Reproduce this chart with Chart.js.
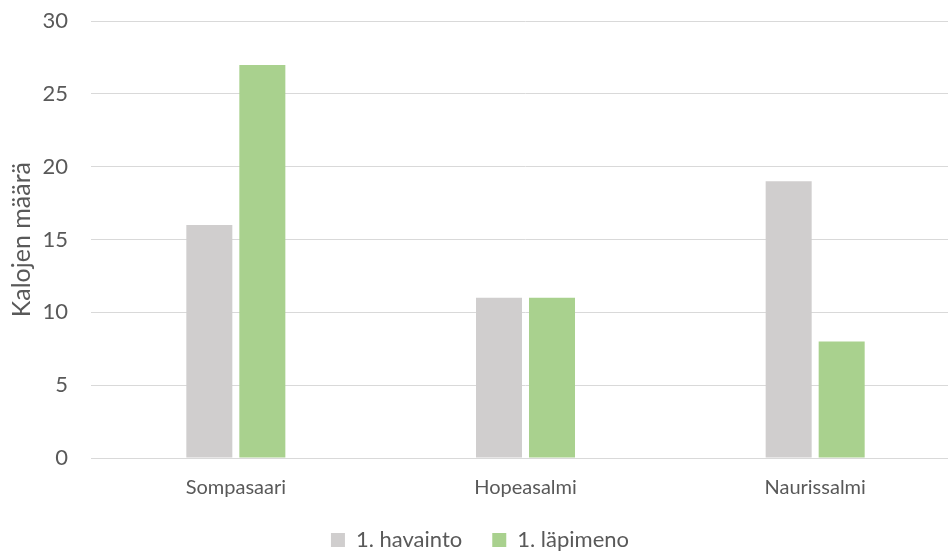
<!DOCTYPE html>
<html>
<head>
<meta charset="utf-8">
<script src="https://cdn.jsdelivr.net/npm/chart.js@4/dist/chart.umd.min.js"></script>
<style>
  html, body { margin: 0; padding: 0; background: #fff; overflow: hidden; height: 552px; }
  #wrap { width: 960px; height: 576px; position: relative; margin-top: -15px; }
</style>
</head>
<body>
<div id="wrap"><canvas id="kalaChart"></canvas></div>
<script>
const paikat = ["Sompasaari", "Hopeasalmi", "Naurissalmi"];
const havainto = [16, 11, 19];
const lapimeno = [27, 11, 8];
const yTicks = [0, 5, 10, 15, 20, 25, 30];

const textColor = "#595959";
const gridColor = "#d9d9d9";
const fontName = "Lato";

const ctx = document.getElementById("kalaChart").getContext("2d");
const chart = new Chart(ctx, {
  type: "bar",
  data: {
    labels: paikat,
    datasets: [
      {
        label: "1. havainto",
        data: havainto,
        backgroundColor: "#d0cece",
        categoryPercentage: 0.366,
        barPercentage: 0.868
      },
      {
        label: "1. läpimeno",
        data: lapimeno,
        backgroundColor: "#a9d18e",
        categoryPercentage: 0.366,
        barPercentage: 0.868
      }
    ]
  },
  options: {
    responsive: true,
    maintainAspectRatio: false,
    animation: false,
    layout: { padding: { top: 0, left: 0, right: 0, bottom: 0 } },
    plugins: {
      legend: {
        position: "bottom",
        labels: {
          color: textColor,
          font: { family: fontName, size: 22 },
          boxWidth: 14,
          boxHeight: 14,
          padding: 30
        }
      },
      tooltip: { enabled: false }
    },
    scales: {
      x: {
        grid: { display: false },
        border: { color: gridColor, width: 1 },
        ticks: { color: textColor, font: { family: fontName, size: 20 }, padding: 10 },
        afterFit: axis => { axis.height = 41; }
      },
      y: {
        min: 0,
        max: 30,
        afterBuildTicks: axis => { axis.ticks = yTicks.map(v => ({ value: v })); },
        grid: { color: gridColor, lineWidth: 1, drawTicks: false },
        border: { display: false },
        ticks: { color: textColor, font: { family: fontName, size: 22 }, padding: 23 },
        title: {
          display: true,
          text: "Kalojen määrä",
          color: textColor,
          font: { family: fontName, size: 25 },
          padding: { top: 7, bottom: 0 }
        },
        afterFit: axis => { axis.width = 91; }
      }
    }
  }
});
</script>
</body>
</html>
